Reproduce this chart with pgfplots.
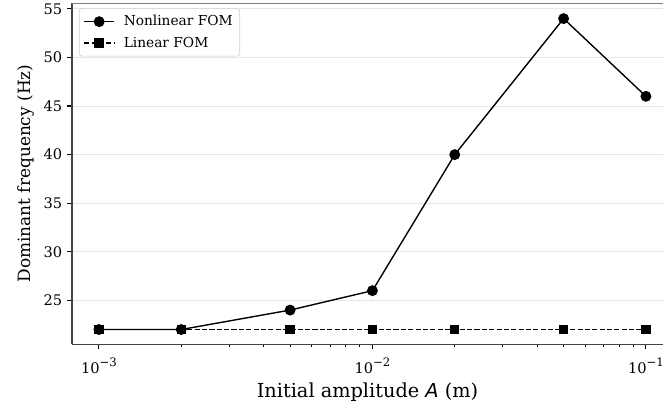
\documentclass[border=0pt]{standalone}
\usepackage{fontspec}
\setmainfont{DejaVu Serif}
\newfontfamily\sansit{DejaVu Sans}
\usepackage{pgfplots}
\pgfplotsset{compat=1.18}
\usetikzlibrary{calc}

\definecolor{spine}{HTML}{444444}
\definecolor{topspine}{HTML}{808080}
\definecolor{gridc}{HTML}{E6E6E6}

\newcommand{\pow}[1]{10\raisebox{0.45em}{\fontsize{8.4}{9}\selectfont −#1}}

\begin{document}
\begin{tikzpicture}
  \begin{axis}[
    name=ax,
    scale only axis,
    width=425.5pt, height=245.5pt,
    xmode=log,
    xmin=0.000797, xmax=0.1155,
    ymin=20.5, ymax=55.6,
    axis x line*=bottom,
    axis y line*=left,
    axis line style={spine, line width=0.8pt},
    tick align=outside,
    tick style={black, line width=0.8pt},
    major tick length=3.5pt,
    minor tick length=2pt,
    xtick={0.001,0.01,0.1},
    xticklabels={\pow{3},\pow{2},\pow{1}},
    ytick={25,30,35,40,45,50,55},
    ymajorgrids,
    grid style={gridc, line width=0.6pt},
    tick label style={font=\fontsize{10.5}{12}\selectfont},
    xticklabel style={yshift=-3pt},
    /pgf/number format/assume math mode=true,
    xlabel={Initial amplitude {\sansit\itshape A} (m)},
    ylabel={Dominant frequency (Hz)},
    xlabel style={font=\fontsize{13.9}{16}\selectfont},
    ylabel style={font=\fontsize{12.2}{14}\selectfont},
    legend style={at={(0.012,0.985)}, anchor=north west,
      draw=gray!40, rounded corners=2pt, fill=white,
      font=\fontsize{9.9}{12}\selectfont, row sep=2.5pt,
      inner xsep=3pt, inner ysep=3pt},
    legend cell align=left,
    legend image code/.code={
      \draw[mark repeat=2, mark phase=2, #1]
        plot coordinates {(0pt,0pt) (10.8pt,0pt) (21.6pt,0pt)};
      \path (26pt,0pt);},
  ]
    \addplot[black, line width=1pt, mark=*, mark size=3.4pt] coordinates {
      (0.001,22) (0.002,22) (0.005,24) (0.01,26) (0.02,40) (0.05,54) (0.1,46)
    };
    \addlegendentry{Nonlinear FOM}
    \addplot[black, line width=1pt, dash pattern=on 3.7pt off 1.6pt,
      mark=square*, mark size=2.9pt, mark options={solid}] coordinates {
      (0.001,22) (0.002,22) (0.005,22) (0.01,22) (0.02,22) (0.05,22) (0.1,22)
    };
    \addlegendentry{Linear FOM}
    \draw[topspine, line width=0.8pt] (rel axis cs:0,1) -- (rel axis cs:1,1);
  \end{axis}
  \pgfresetboundingbox
  \path ($(ax.south west)+(-51.8pt,-43.2pt)$) rectangle ($(ax.north east)+(1.4pt,2.2pt)$);
\end{tikzpicture}
\end{document}
